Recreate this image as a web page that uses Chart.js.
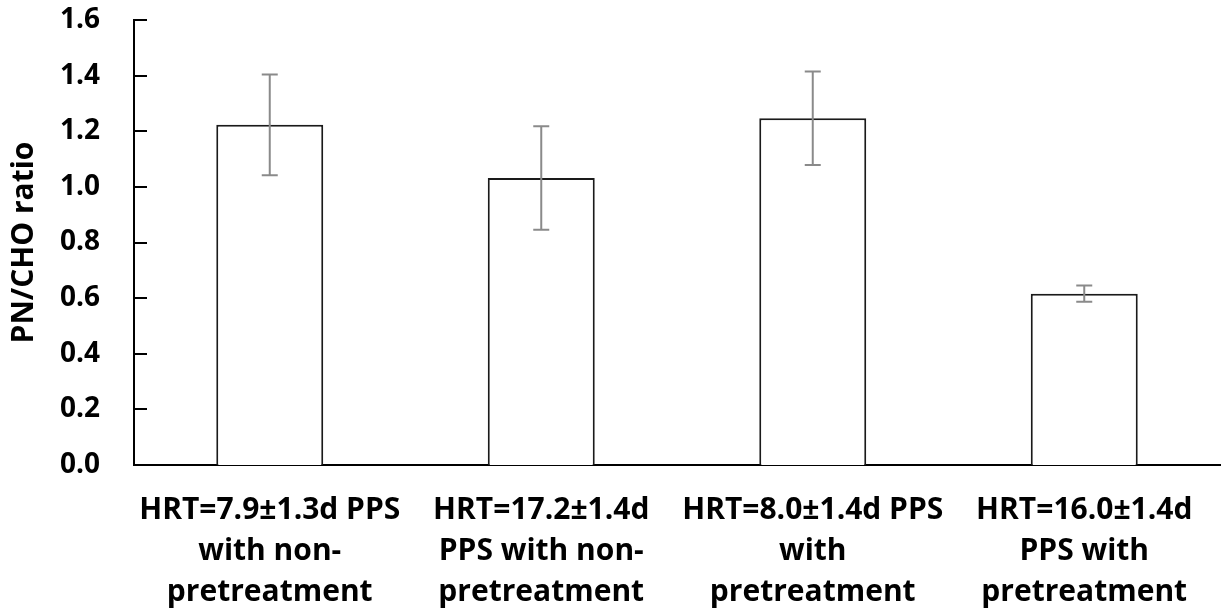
<!DOCTYPE html>
<html>
<head>
<meta charset="utf-8">
<script src="https://cdn.jsdelivr.net/npm/chart.js@4.4.1/dist/chart.umd.min.js"></script>
<style>
  html, body { margin: 0; padding: 0; background: #fff; }
  #wrap { width: 1222px; height: 616px; }
</style>
</head>
<body>
<div id="wrap"><canvas id="ratioChart"></canvas></div>
<script>
const categories = [
    ["HRT=7.9±1.3d PPS", "with non-", "pretreatment"],
    ["HRT=17.2±1.4d", "PPS with non-", "pretreatment"],
    ["HRT=8.0±1.4d PPS", "with", "pretreatment"],
    ["HRT=16.0±1.4d", "PPS with", "pretreatment"]
];
const ratioValues = [1.223, 1.032, 1.247, 0.616];
const ratioErrors = [0.181, 0.186, 0.168, 0.029];
const yTicks = [0, 0.2, 0.4, 0.6, 0.8, 1.0, 1.2, 1.4, 1.6];

const FONT = "'Open Sans', 'Liberation Sans', sans-serif";

// error bars drawn from the value/error arrays through the scales
const errorBarPlugin = {
    id: 'errorBars',
    afterDatasetsDraw(chart) {
        const ctx = chart.ctx;
        const y = chart.scales.y;
        const meta = chart.getDatasetMeta(0);
        ctx.save();
        ctx.strokeStyle = '#8a8a8a';
        ctx.lineWidth = 2;
        meta.data.forEach((bar, i) => {
            const x = bar.x;
            const top = y.getPixelForValue(ratioValues[i] + ratioErrors[i]);
            const bottom = y.getPixelForValue(ratioValues[i] - ratioErrors[i]);
            ctx.beginPath();
            ctx.moveTo(x, top);
            ctx.lineTo(x, bottom);
            ctx.moveTo(x - 8, top);
            ctx.lineTo(x + 8, top);
            ctx.moveTo(x - 8, bottom);
            ctx.lineTo(x + 8, bottom);
            ctx.stroke();
        });
        ctx.restore();
    }
};

// small tick marks pointing into the plot from the y axis
const innerTicksPlugin = {
    id: 'innerTicks',
    afterDraw(chart) {
        const ctx = chart.ctx;
        const y = chart.scales.y;
        const left = chart.chartArea.left;
        ctx.save();
        ctx.strokeStyle = '#000';
        ctx.lineWidth = 2;
        yTicks.forEach(v => {
            if (v === 0) return;
            const py = Math.round(y.getPixelForValue(v));
            ctx.beginPath();
            ctx.moveTo(left, py);
            ctx.lineTo(left + 13, py);
            ctx.stroke();
        });
        ctx.restore();
    }
};

new Chart(document.getElementById('ratioChart'), {
    type: 'bar',
    data: {
        labels: categories,
        datasets: [{
            data: ratioValues,
            backgroundColor: '#ffffff',
            borderColor: '#1a1a1a',
            borderWidth: 2,
            borderSkipped: 'bottom',
            barPercentage: 0.394,
            categoryPercentage: 1.0
        }]
    },
    options: {
        responsive: true,
        maintainAspectRatio: false,
        animation: false,
        layout: { padding: { top: 20, right: 2, left: 0, bottom: 0 } },
        plugins: {
            legend: { display: false },
            tooltip: { enabled: false }
        },
        scales: {
            x: {
                grid: { display: false, drawTicks: false },
                border: { color: '#000', width: 2 },
                ticks: {
                    color: '#000',
                    padding: 25,
                    maxRotation: 0,
                    autoSkip: false,
                    font: { family: FONT, size: 30, weight: 'bold', lineHeight: 1.36 }
                },
                afterFit(scale) {
                    scale.height = 151;
                    scale.paddingTop = 0;
                    scale.paddingBottom = 0;
                }
            },
            y: {
                min: 0,
                max: 1.6,
                afterBuildTicks(scale) {
                    scale.ticks = yTicks.map(v => ({ value: v }));
                },
                grid: { display: false, drawTicks: false },
                border: { color: '#000', width: 2 },
                ticks: {
                    color: '#000',
                    padding: 34,
                    callback: v => v.toFixed(1),
                    font: { family: FONT, size: 28, weight: 'bold' }
                },
                title: {
                    display: true,
                    text: 'PN/CHO ratio',
                    color: '#000',
                    padding: { top: 6, bottom: 0 },
                    font: { family: FONT, size: 30, weight: 'bold' }
                },
                afterFit(scale) {
                    scale.width = 134;
                    scale.paddingTop = 0;
                    scale.paddingBottom = 0;
                }
            }
        }
    },
    plugins: [errorBarPlugin, innerTicksPlugin]
});
</script>
</body>
</html>
